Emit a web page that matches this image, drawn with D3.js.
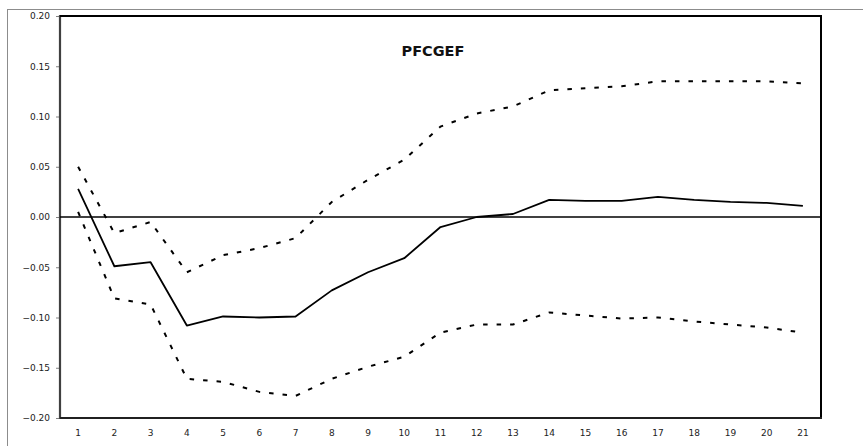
<!DOCTYPE html>
<html>
<head>
<meta charset="utf-8">
<script src="https://cdn.jsdelivr.net/npm/d3@7"></script>
<style>
  html, body { margin: 0; padding: 0; background: #fff; }
  svg { display: block; }
</style>
</head>
<body>
<svg id="chart" width="863" height="446"></svg>
<script>
// Impulse response of PFCGEF with upper and lower confidence bands
const periods = ["1","2","3","4","5","6","7","8","9","10","11","12","13","14","15","16","17","18","19","20","21"];
const response = [0.028,-0.049,-0.045,-0.108,-0.099,-0.100,-0.099,-0.073,-0.055,-0.041,-0.010,0.000,0.003,0.017,0.016,0.016,0.020,0.017,0.015,0.014,0.011];
const upperBand = [0.050,-0.016,-0.005,-0.055,-0.038,-0.031,-0.021,0.015,0.037,0.057,0.090,0.103,0.110,0.126,0.128,0.130,0.135,0.135,0.135,0.135,0.133];
const lowerBand = [0.005,-0.081,-0.087,-0.161,-0.164,-0.174,-0.178,-0.161,-0.149,-0.139,-0.115,-0.107,-0.107,-0.095,-0.098,-0.101,-0.100,-0.104,-0.107,-0.110,-0.115];
const yTicks = [-0.20,-0.15,-0.10,-0.05,0.00,0.05,0.10,0.15,0.20];
const title = "PFCGEF";

const svg = d3.select("#chart");
const plot = { left: 60, top: 16, right: 821, bottom: 418 };

// Outer chart border
svg.append("rect")
  .attr("x", 7.5).attr("y", 9.5)
  .attr("width", 870).attr("height", 450)
  .attr("fill", "none").attr("stroke", "#8c8c8c").attr("stroke-width", 1);

const x = d3.scaleBand().domain(periods).range([plot.left, plot.right]);
const y = d3.scaleLinear().domain([-0.20, 0.20]).range([plot.bottom, plot.top]);
const cx = d => x(d) + x.bandwidth() / 2;

// Y axis
const yAxis = svg.append("g")
  .attr("transform", `translate(${plot.left},0)`)
  .call(d3.axisLeft(y).tickValues(yTicks).tickFormat(d3.format(".2f")).tickSize(4).tickPadding(6));
yAxis.select(".domain").remove();
yAxis.selectAll(".tick line").attr("stroke", "#808080");
yAxis.selectAll(".tick text")
  .attr("font-family", "DejaVu Sans, Verdana, sans-serif")
  .attr("font-size", 9).attr("fill", "#222");

// X axis labels
const xAxis = svg.append("g")
  .attr("transform", `translate(0,${plot.bottom})`)
  .call(d3.axisBottom(x).tickSize(0).tickPadding(12));
xAxis.select(".domain").remove();
xAxis.selectAll(".tick text")
  .attr("font-family", "DejaVu Sans, Verdana, sans-serif")
  .attr("font-size", 9).attr("fill", "#222");

// Plot frame
svg.append("line").attr("x1", plot.left).attr("x2", plot.left)
  .attr("y1", plot.top - 1).attr("y2", plot.bottom + 1)
  .attr("stroke", "#404040").attr("stroke-width", 2.2);
svg.append("line").attr("x1", plot.left).attr("x2", plot.right + 1)
  .attr("y1", plot.top).attr("y2", plot.top)
  .attr("stroke", "#000").attr("stroke-width", 2);
svg.append("line").attr("x1", plot.right).attr("x2", plot.right)
  .attr("y1", plot.top).attr("y2", plot.bottom + 1)
  .attr("stroke", "#000").attr("stroke-width", 2);
svg.append("line").attr("x1", plot.left).attr("x2", plot.right + 1)
  .attr("y1", plot.bottom).attr("y2", plot.bottom)
  .attr("stroke", "#202020").attr("stroke-width", 2);

// Zero line
svg.append("line").attr("x1", plot.left).attr("x2", plot.right)
  .attr("y1", y(0)).attr("y2", y(0))
  .attr("stroke", "#000").attr("stroke-width", 1.6);

const line = d3.line().x((d, i) => cx(periods[i])).y(d => y(d));

svg.append("path").datum(upperBand).attr("d", line)
  .attr("fill", "none").attr("stroke", "#000").attr("stroke-width", 2)
  .attr("stroke-dasharray", "4.5,9");
svg.append("path").datum(lowerBand).attr("d", line)
  .attr("fill", "none").attr("stroke", "#000").attr("stroke-width", 2)
  .attr("stroke-dasharray", "4.5,9");
svg.append("path").datum(response).attr("d", line)
  .attr("fill", "none").attr("stroke", "#000").attr("stroke-width", 1.8)
  .attr("stroke-linejoin", "round");

// Title
svg.append("text")
  .attr("x", 433).attr("y", 56)
  .attr("text-anchor", "middle")
  .attr("font-family", "DejaVu Sans, Verdana, sans-serif")
  .attr("font-weight", "bold").attr("font-size", 14.5)
  .attr("fill", "#111")
  .text(title);
</script>
</body>
</html>
